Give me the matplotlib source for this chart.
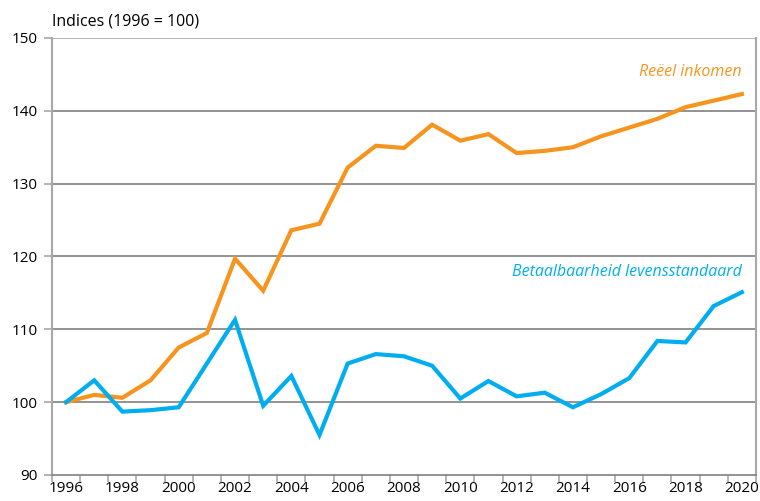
import numpy as np
import matplotlib.pyplot as plt

years = list(range(1996, 2021))
reeel_inkomen = [100, 101.0, 100.6, 103.0, 107.5, 109.5, 119.7, 115.3, 123.6, 124.5,
                 132.2, 135.2, 134.9, 138.1, 135.9, 136.8, 134.2, 134.5, 135.0, 136.5,
                 137.7, 138.9, 140.5, 141.4, 142.3]
betaalbaarheid = [100, 103.0, 98.7, 98.9, 99.3, 105.3, 111.3, 99.5, 103.6, 95.5,
                  105.3, 106.6, 106.3, 105.0, 100.5, 102.9, 100.8, 101.3, 99.3, 101.1,
                  103.3, 108.4, 108.2, 113.2, 115.1]
y_ticks = [90, 100, 110, 120, 130, 140, 150]

orange = '#F7941D'
blue = '#00AEEF'

plt.rcParams['font.family'] = ['Open Sans', 'DejaVu Sans']

fig = plt.figure(figsize=(7.6, 5.01), dpi=100)
ax = fig.add_axes([0.0684, 0.0519, 0.9263, 0.8723])

ax.plot(years, reeel_inkomen, color=orange, lw=3, solid_joinstyle='miter', zorder=3)
ax.plot(years, betaalbaarheid, color=blue, lw=3, solid_joinstyle='miter', zorder=3)

ax.set_xlim(1995.5, 2020.5)
ax.set_ylim(90, 150)

# gridlines
for v in y_ticks[1:-1]:
    ax.axhline(v, color='#808080', lw=1.2, zorder=1)
ax.axhline(150, color='#a8a8a8', lw=1.2, zorder=1)

ax.set_yticks(y_ticks)
ax.set_yticklabels([str(v) for v in y_ticks], fontsize=11)
ax.set_xticks([y for y in years[::2]])
ax.set_xticklabels([str(y) for y in years[::2]], fontsize=11)
ax.set_xticks(np.arange(1995.5, 2021, 1), minor=True)
ax.tick_params(axis='x', which='major', length=0, pad=4)
ax.tick_params(axis='x', which='minor', length=5, color='#a8a8a8', width=1.2)
ax.tick_params(axis='y', length=6, color='#a8a8a8', width=1.2, pad=4)

for s in ['left', 'right']:
    ax.spines[s].set_color('#a8a8a8')
    ax.spines[s].set_linewidth(1.5)
ax.spines['bottom'].set_color('#808080')
ax.spines['bottom'].set_linewidth(1.2)
ax.spines['top'].set_visible(False)

ax.text(0.0, 1.02, 'Indices (1996 = 100)', transform=ax.transAxes,
        fontsize=11.5, ha='left', va='bottom')

ax.text(2020, 144.2, 'Reëel inkomen', color=orange, fontsize=11.5,
        style='italic', ha='right', va='bottom')
ax.text(2020, 116.8, 'Betaalbaarheid levensstandaard', color=blue, fontsize=11.5,
        style='italic', ha='right', va='bottom')

plt.savefig('out.png', dpi=100)
